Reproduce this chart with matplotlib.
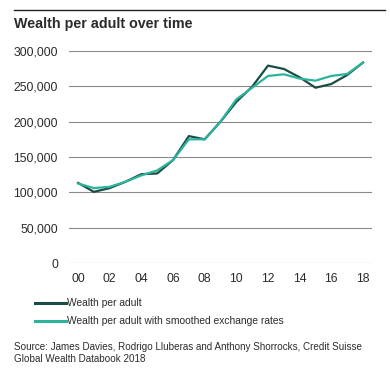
import matplotlib
matplotlib.use("Agg")
import matplotlib.pyplot as plt
from matplotlib.lines import Line2D

years = list(range(0, 19))
year_labels = ["00", "02", "04", "06", "08", "10", "12", "14", "16", "18"]
wealth = [113400, 100700, 106000, 115000, 125700, 126700, 145600, 179600, 175000,
          200000, 228000, 249500, 279300, 274600, 262800, 248000, 253300, 266000, 283600]
wealth_smoothed = [112500, 106000, 107800, 115000, 124000, 131000, 145600, 175000, 175000,
                   200000, 231600, 248000, 264700, 267000, 261000, 258000, 264700, 267500, 283600]
y_ticks = [0, 50000, 100000, 150000, 200000, 250000, 300000]

DARK = "#1b4c45"
TEAL = "#2cb39c"
TXT = "#2b2b2b"

plt.rcParams['font.family'] = ['Liberation Sans', 'DejaVu Sans']

fig = plt.figure(figsize=(3.90, 3.69), dpi=100)
fig.patch.set_facecolor("white")
ax = fig.add_axes([69/390, 106/369, 303/390, 212/369])

for t in y_ticks:
    ax.axhline(t, color="#8a8a8a", lw=0.8, zorder=1)

ax.plot(years, wealth, color=DARK, lw=1.6, zorder=3, clip_on=False)
ax.plot(years, wealth_smoothed, color=TEAL, lw=1.6, zorder=4, clip_on=False)

ax.set_xlim(-0.57, 18.57)
ax.set_ylim(0, 300000)
ax.set_yticks(y_ticks)
ax.set_yticklabels([f"{t:,}" for t in y_ticks])
ax.set_xticks(years[::2])
ax.set_xticklabels(year_labels)
ax.tick_params(axis='y', length=0, pad=8, labelsize=8.8, labelcolor=TXT)
ax.tick_params(axis='x', length=0, pad=7, labelsize=8.8, labelcolor=TXT)
for s in ax.spines.values():
    s.set_visible(False)

# top rule and title
fig.add_artist(Line2D([14/390, 385/390], [1 - 10/369, 1 - 10/369], color="#222222", lw=1.0))
fig.text(14/390, 1 - 24/369, "Wealth per adult over time", fontsize=10.3, fontweight="bold",
         color=TXT, va="center", ha="left")

# legend
for yy, col, lab in [(303, DARK, "Wealth per adult"),
                     (321, TEAL, "Wealth per adult with smoothed exchange rates")]:
    fig.add_artist(Line2D([35/390, 66/390], [1 - yy/369, 1 - yy/369], color=col, lw=2.2))
    fig.text(67/390, 1 - yy/369, lab, fontsize=7.4, color=TXT, va="center", ha="left")

fig.text(14/390, 1 - 347/369,
         "Source: James Davies, Rodrigo Lluberas and Anthony Shorrocks, Credit Suisse",
         fontsize=7.1, color=TXT, va="center", ha="left")
fig.text(14/390, 1 - 359/369, "Global Wealth Databook 2018",
         fontsize=7.1, color=TXT, va="center", ha="left")

fig.savefig("out.png", dpi=100, facecolor="white")
